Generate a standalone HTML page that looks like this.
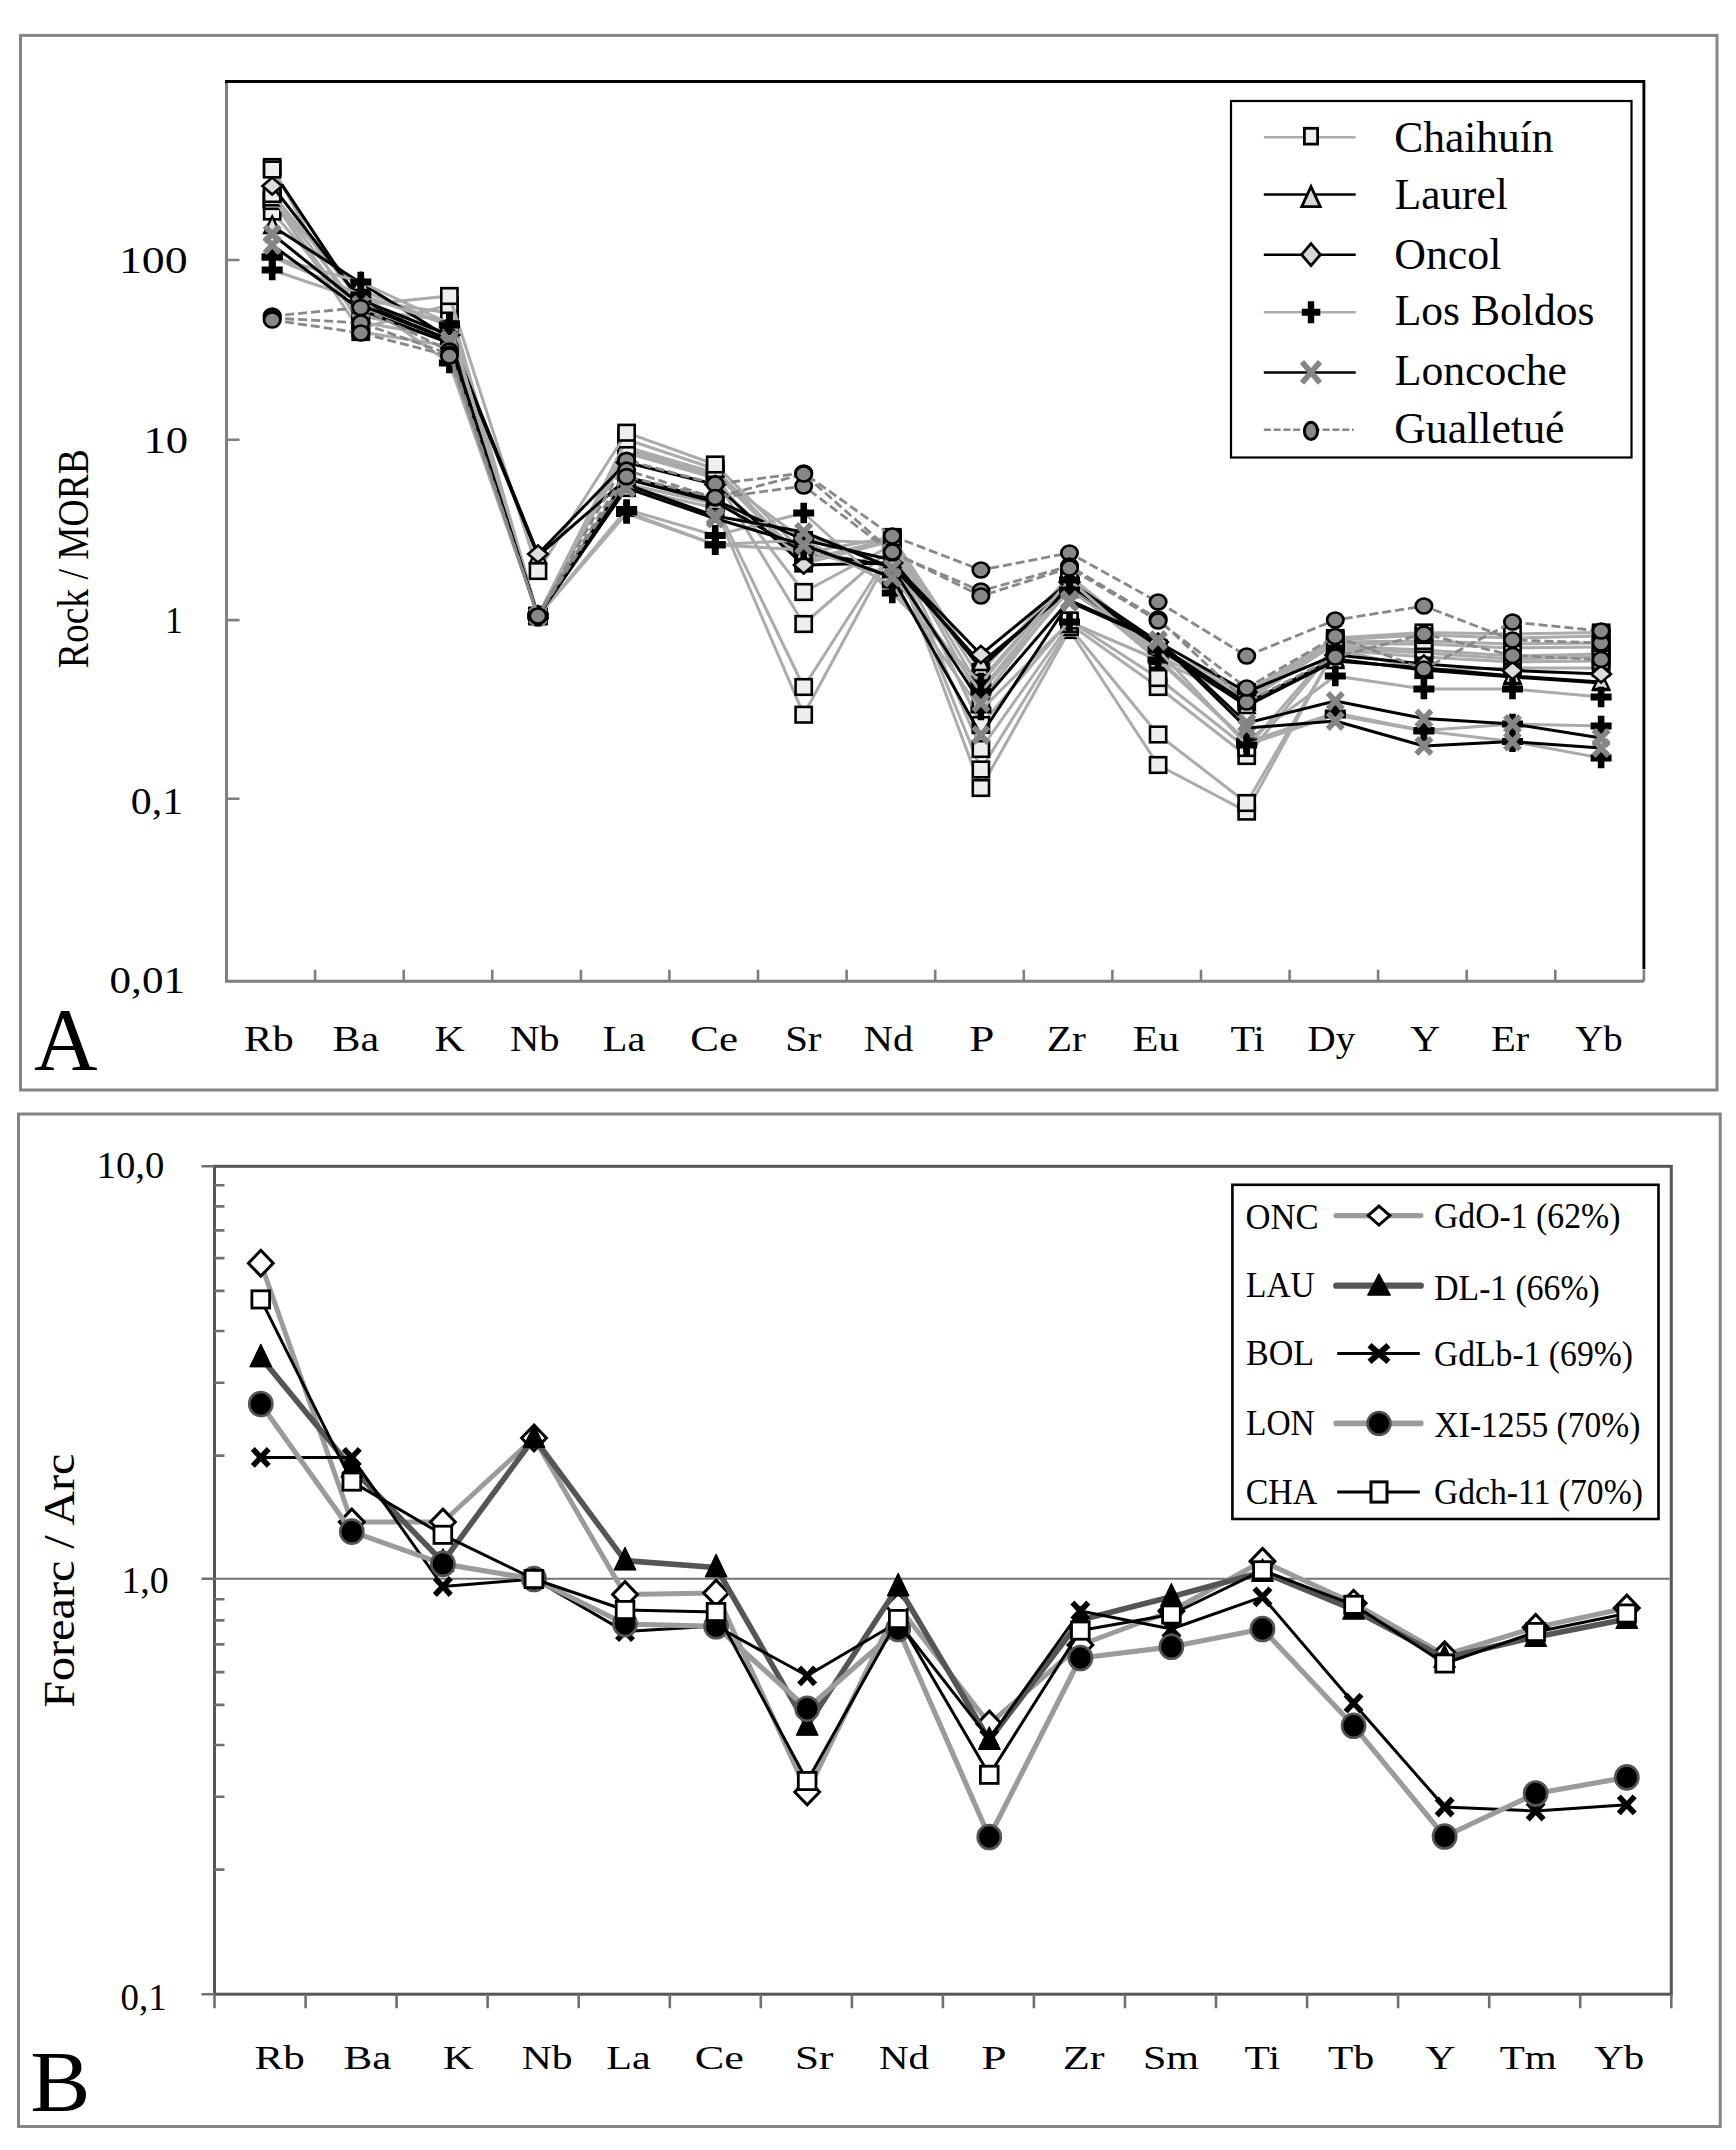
<!DOCTYPE html>
<html lang="es"><head><meta charset="utf-8"><title>Rock / MORB – Forearc / Arc</title>
<style>html,body{margin:0;padding:0;background:#fff}svg{display:block}</style></head>
<body>
<svg width="1736" height="2150" viewBox="0 0 1736 2150" font-family="'Liberation Serif', serif">
<rect width="1736" height="2150" fill="#fff"/>
<rect x="20.5" y="35.4" width="1696.5" height="1054.6" fill="none" stroke="#858585" stroke-width="3"/>
<path d="M226.5 81.5V981.2H1643.9" fill="none" stroke="#7f7f7f" stroke-width="3"/>
<path d="M225.0 81.5H1643.9V969.2" fill="none" stroke="#000" stroke-width="2.9"/>
<path d="M315.1 981.2v-11.5M403.7 981.2v-11.5M492.3 981.2v-11.5M580.9 981.2v-11.5M669.4 981.2v-11.5M758.0 981.2v-11.5M846.6 981.2v-11.5M935.2 981.2v-11.5M1023.8 981.2v-11.5M1112.4 981.2v-11.5M1201.0 981.2v-11.5M1289.6 981.2v-11.5M1378.1 981.2v-11.5M1466.7 981.2v-11.5M1555.3 981.2v-11.5M1643.9 981.2v-11.5" stroke="#7f7f7f" stroke-width="2.6" fill="none"/>
<path d="M226.5 260.0h13M226.5 439.8h13M226.5 620.1h13M226.5 798.7h13" stroke="#7f7f7f" stroke-width="2.6" fill="none"/>
<text transform="translate(118.89,273.00) scale(1.2383,1)" font-size="37" fill="#000">100</text>
<text transform="translate(143.49,453.20) scale(1.2077,1)" font-size="37" fill="#000">10</text>
<text transform="translate(165.25,632.70) scale(0.9431,1)" font-size="37" fill="#000">1</text>
<text transform="translate(130.83,813.80) scale(1.1303,1)" font-size="37" fill="#000">0,1</text>
<text transform="translate(109.58,993.40) scale(1.1490,1)" font-size="37.5" fill="#000">0,01</text>
<text transform="translate(88.40,668.13) rotate(-90) scale(0.8530,1)" font-size="44" fill="#000">Rock / MORB</text>
<text transform="translate(34.12,1068.70) scale(0.9881,1)" font-size="89" fill="#000">A</text>
<text transform="translate(244.12,1050.60) scale(1.1818,1)" font-size="36" fill="#000">Rb</text>
<text transform="translate(332.54,1050.60) scale(1.1632,1)" font-size="36" fill="#000">Ba</text>
<text transform="translate(434.55,1050.60) scale(1.1600,1)" font-size="36" fill="#000">K</text>
<text transform="translate(509.88,1050.60) scale(1.1279,1)" font-size="36" fill="#000">Nb</text>
<text transform="translate(602.79,1050.60) scale(1.1194,1)" font-size="36" fill="#000">La</text>
<text transform="translate(690.28,1050.60) scale(1.1941,1)" font-size="36" fill="#000">Ce</text>
<text transform="translate(785.14,1050.60) scale(1.1350,1)" font-size="36" fill="#000">Sr</text>
<text transform="translate(863.69,1050.60) scale(1.1229,1)" font-size="36" fill="#000">Nd</text>
<text transform="translate(969.25,1050.60) scale(1.2543,1)" font-size="36" fill="#000">P</text>
<text transform="translate(1046.63,1050.60) scale(1.1518,1)" font-size="36" fill="#000">Zr</text>
<text transform="translate(1132.74,1050.60) scale(1.1660,1)" font-size="36" fill="#000">Eu</text>
<text transform="translate(1230.50,1050.60) scale(1.1145,1)" font-size="36" fill="#000">Ti</text>
<text transform="translate(1307.53,1050.60) scale(1.0830,1)" font-size="36" fill="#000">Dy</text>
<text transform="translate(1410.29,1050.60) scale(1.1475,1)" font-size="36" fill="#000">Y</text>
<text transform="translate(1491.29,1050.60) scale(1.1172,1)" font-size="36" fill="#000">Er</text>
<text transform="translate(1575.31,1050.60) scale(1.0780,1)" font-size="36" fill="#000">Yb</text>
<g id="seriesA">
<polyline points="272.2,199.0 360.8,332.0 449.4,346.0 538.0,616.0 626.6,488.0 715.2,508.0 803.7,714.7 892.3,550.5 980.9,788.0 1069.5,630.0 1158.1,765.0 1246.7,811.6 1335.3,649.0 1423.9,670.0 1512.5,668.0 1601.1,668.0" fill="none" stroke="#ababab" stroke-width="3.0" stroke-linejoin="round"/>
<rect x="264.1" y="191.2" width="16.2" height="15.6" fill="#eeeeee" stroke="#000" stroke-width="2.6"/><rect x="352.7" y="324.2" width="16.2" height="15.6" fill="#eeeeee" stroke="#000" stroke-width="2.6"/><rect x="441.3" y="338.2" width="16.2" height="15.6" fill="#eeeeee" stroke="#000" stroke-width="2.6"/><rect x="529.9" y="608.2" width="16.2" height="15.6" fill="#eeeeee" stroke="#000" stroke-width="2.6"/><rect x="618.5" y="480.2" width="16.2" height="15.6" fill="#eeeeee" stroke="#000" stroke-width="2.6"/><rect x="707.1" y="500.2" width="16.2" height="15.6" fill="#eeeeee" stroke="#000" stroke-width="2.6"/><rect x="795.6" y="706.9" width="16.2" height="15.6" fill="#eeeeee" stroke="#000" stroke-width="2.6"/><rect x="884.2" y="542.7" width="16.2" height="15.6" fill="#eeeeee" stroke="#000" stroke-width="2.6"/><rect x="972.8" y="780.2" width="16.2" height="15.6" fill="#eeeeee" stroke="#000" stroke-width="2.6"/><rect x="1061.4" y="622.2" width="16.2" height="15.6" fill="#eeeeee" stroke="#000" stroke-width="2.6"/><rect x="1150.0" y="757.2" width="16.2" height="15.6" fill="#eeeeee" stroke="#000" stroke-width="2.6"/><rect x="1238.6" y="803.8" width="16.2" height="15.6" fill="#eeeeee" stroke="#000" stroke-width="2.6"/><rect x="1327.2" y="641.2" width="16.2" height="15.6" fill="#eeeeee" stroke="#000" stroke-width="2.6"/><rect x="1415.8" y="662.2" width="16.2" height="15.6" fill="#eeeeee" stroke="#000" stroke-width="2.6"/><rect x="1504.4" y="660.2" width="16.2" height="15.6" fill="#eeeeee" stroke="#000" stroke-width="2.6"/><rect x="1593.0" y="660.2" width="16.2" height="15.6" fill="#eeeeee" stroke="#000" stroke-width="2.6"/>
<polyline points="272.2,200.0 360.8,322.0 449.4,338.0 538.0,616.0 626.6,484.0 715.2,504.0 803.7,687.0 892.3,549.0 980.9,769.5 1069.5,627.0 1158.1,734.5 1246.7,803.0 1335.3,650.0 1423.9,657.0 1512.5,662.0 1601.1,661.0" fill="none" stroke="#ababab" stroke-width="3.0" stroke-linejoin="round"/>
<rect x="264.1" y="192.2" width="16.2" height="15.6" fill="#eeeeee" stroke="#000" stroke-width="2.6"/><rect x="352.7" y="314.2" width="16.2" height="15.6" fill="#eeeeee" stroke="#000" stroke-width="2.6"/><rect x="441.3" y="330.2" width="16.2" height="15.6" fill="#eeeeee" stroke="#000" stroke-width="2.6"/><rect x="529.9" y="608.2" width="16.2" height="15.6" fill="#eeeeee" stroke="#000" stroke-width="2.6"/><rect x="618.5" y="476.2" width="16.2" height="15.6" fill="#eeeeee" stroke="#000" stroke-width="2.6"/><rect x="707.1" y="496.2" width="16.2" height="15.6" fill="#eeeeee" stroke="#000" stroke-width="2.6"/><rect x="795.6" y="679.2" width="16.2" height="15.6" fill="#eeeeee" stroke="#000" stroke-width="2.6"/><rect x="884.2" y="541.2" width="16.2" height="15.6" fill="#eeeeee" stroke="#000" stroke-width="2.6"/><rect x="972.8" y="761.7" width="16.2" height="15.6" fill="#eeeeee" stroke="#000" stroke-width="2.6"/><rect x="1061.4" y="619.2" width="16.2" height="15.6" fill="#eeeeee" stroke="#000" stroke-width="2.6"/><rect x="1150.0" y="726.7" width="16.2" height="15.6" fill="#eeeeee" stroke="#000" stroke-width="2.6"/><rect x="1238.6" y="795.2" width="16.2" height="15.6" fill="#eeeeee" stroke="#000" stroke-width="2.6"/><rect x="1327.2" y="642.2" width="16.2" height="15.6" fill="#eeeeee" stroke="#000" stroke-width="2.6"/><rect x="1415.8" y="649.2" width="16.2" height="15.6" fill="#eeeeee" stroke="#000" stroke-width="2.6"/><rect x="1504.4" y="654.2" width="16.2" height="15.6" fill="#eeeeee" stroke="#000" stroke-width="2.6"/><rect x="1593.0" y="653.2" width="16.2" height="15.6" fill="#eeeeee" stroke="#000" stroke-width="2.6"/>
<polyline points="272.2,211.5 360.8,316.0 449.4,332.0 538.0,616.0 626.6,453.0 715.2,478.0 803.7,624.0 892.3,547.0 980.9,749.0 1069.5,624.0 1158.1,687.0 1246.7,756.0 1335.3,648.0 1423.9,653.0 1512.5,659.0 1601.1,657.0" fill="none" stroke="#ababab" stroke-width="3.0" stroke-linejoin="round"/>
<rect x="264.1" y="203.7" width="16.2" height="15.6" fill="#eeeeee" stroke="#000" stroke-width="2.6"/><rect x="352.7" y="308.2" width="16.2" height="15.6" fill="#eeeeee" stroke="#000" stroke-width="2.6"/><rect x="441.3" y="324.2" width="16.2" height="15.6" fill="#eeeeee" stroke="#000" stroke-width="2.6"/><rect x="529.9" y="608.2" width="16.2" height="15.6" fill="#eeeeee" stroke="#000" stroke-width="2.6"/><rect x="618.5" y="445.2" width="16.2" height="15.6" fill="#eeeeee" stroke="#000" stroke-width="2.6"/><rect x="707.1" y="470.2" width="16.2" height="15.6" fill="#eeeeee" stroke="#000" stroke-width="2.6"/><rect x="795.6" y="616.2" width="16.2" height="15.6" fill="#eeeeee" stroke="#000" stroke-width="2.6"/><rect x="884.2" y="539.2" width="16.2" height="15.6" fill="#eeeeee" stroke="#000" stroke-width="2.6"/><rect x="972.8" y="741.2" width="16.2" height="15.6" fill="#eeeeee" stroke="#000" stroke-width="2.6"/><rect x="1061.4" y="616.2" width="16.2" height="15.6" fill="#eeeeee" stroke="#000" stroke-width="2.6"/><rect x="1150.0" y="679.2" width="16.2" height="15.6" fill="#eeeeee" stroke="#000" stroke-width="2.6"/><rect x="1238.6" y="748.2" width="16.2" height="15.6" fill="#eeeeee" stroke="#000" stroke-width="2.6"/><rect x="1327.2" y="640.2" width="16.2" height="15.6" fill="#eeeeee" stroke="#000" stroke-width="2.6"/><rect x="1415.8" y="645.2" width="16.2" height="15.6" fill="#eeeeee" stroke="#000" stroke-width="2.6"/><rect x="1504.4" y="651.2" width="16.2" height="15.6" fill="#eeeeee" stroke="#000" stroke-width="2.6"/><rect x="1593.0" y="649.2" width="16.2" height="15.6" fill="#eeeeee" stroke="#000" stroke-width="2.6"/>
<polyline points="272.2,201.0 360.8,290.0 449.4,326.0 538.0,616.0 626.6,451.0 715.2,476.5 803.7,592.0 892.3,545.0 980.9,725.0 1069.5,620.5 1158.1,678.0 1246.7,748.0 1335.3,646.0 1423.9,650.0 1512.5,656.0 1601.1,654.0" fill="none" stroke="#ababab" stroke-width="3.0" stroke-linejoin="round"/>
<rect x="264.1" y="193.2" width="16.2" height="15.6" fill="#eeeeee" stroke="#000" stroke-width="2.6"/><rect x="352.7" y="282.2" width="16.2" height="15.6" fill="#eeeeee" stroke="#000" stroke-width="2.6"/><rect x="441.3" y="318.2" width="16.2" height="15.6" fill="#eeeeee" stroke="#000" stroke-width="2.6"/><rect x="529.9" y="608.2" width="16.2" height="15.6" fill="#eeeeee" stroke="#000" stroke-width="2.6"/><rect x="618.5" y="443.2" width="16.2" height="15.6" fill="#eeeeee" stroke="#000" stroke-width="2.6"/><rect x="707.1" y="468.7" width="16.2" height="15.6" fill="#eeeeee" stroke="#000" stroke-width="2.6"/><rect x="795.6" y="584.2" width="16.2" height="15.6" fill="#eeeeee" stroke="#000" stroke-width="2.6"/><rect x="884.2" y="537.2" width="16.2" height="15.6" fill="#eeeeee" stroke="#000" stroke-width="2.6"/><rect x="972.8" y="717.2" width="16.2" height="15.6" fill="#eeeeee" stroke="#000" stroke-width="2.6"/><rect x="1061.4" y="612.7" width="16.2" height="15.6" fill="#eeeeee" stroke="#000" stroke-width="2.6"/><rect x="1150.0" y="670.2" width="16.2" height="15.6" fill="#eeeeee" stroke="#000" stroke-width="2.6"/><rect x="1238.6" y="740.2" width="16.2" height="15.6" fill="#eeeeee" stroke="#000" stroke-width="2.6"/><rect x="1327.2" y="638.2" width="16.2" height="15.6" fill="#eeeeee" stroke="#000" stroke-width="2.6"/><rect x="1415.8" y="642.2" width="16.2" height="15.6" fill="#eeeeee" stroke="#000" stroke-width="2.6"/><rect x="1504.4" y="648.2" width="16.2" height="15.6" fill="#eeeeee" stroke="#000" stroke-width="2.6"/><rect x="1593.0" y="646.2" width="16.2" height="15.6" fill="#eeeeee" stroke="#000" stroke-width="2.6"/>
<polyline points="272.2,197.5 360.8,310.0 449.4,320.0 538.0,616.0 626.6,449.0 715.2,475.0 803.7,540.0 892.3,543.0 980.9,700.0 1069.5,586.0 1158.1,660.0 1246.7,701.0 1335.3,644.0 1423.9,644.0 1512.5,648.0 1601.1,647.0" fill="none" stroke="#ababab" stroke-width="3.0" stroke-linejoin="round"/>
<rect x="264.1" y="189.7" width="16.2" height="15.6" fill="#eeeeee" stroke="#000" stroke-width="2.6"/><rect x="352.7" y="302.2" width="16.2" height="15.6" fill="#eeeeee" stroke="#000" stroke-width="2.6"/><rect x="441.3" y="312.2" width="16.2" height="15.6" fill="#eeeeee" stroke="#000" stroke-width="2.6"/><rect x="529.9" y="608.2" width="16.2" height="15.6" fill="#eeeeee" stroke="#000" stroke-width="2.6"/><rect x="618.5" y="441.2" width="16.2" height="15.6" fill="#eeeeee" stroke="#000" stroke-width="2.6"/><rect x="707.1" y="467.2" width="16.2" height="15.6" fill="#eeeeee" stroke="#000" stroke-width="2.6"/><rect x="795.6" y="532.2" width="16.2" height="15.6" fill="#eeeeee" stroke="#000" stroke-width="2.6"/><rect x="884.2" y="535.2" width="16.2" height="15.6" fill="#eeeeee" stroke="#000" stroke-width="2.6"/><rect x="972.8" y="692.2" width="16.2" height="15.6" fill="#eeeeee" stroke="#000" stroke-width="2.6"/><rect x="1061.4" y="578.2" width="16.2" height="15.6" fill="#eeeeee" stroke="#000" stroke-width="2.6"/><rect x="1150.0" y="652.2" width="16.2" height="15.6" fill="#eeeeee" stroke="#000" stroke-width="2.6"/><rect x="1238.6" y="693.2" width="16.2" height="15.6" fill="#eeeeee" stroke="#000" stroke-width="2.6"/><rect x="1327.2" y="636.2" width="16.2" height="15.6" fill="#eeeeee" stroke="#000" stroke-width="2.6"/><rect x="1415.8" y="636.2" width="16.2" height="15.6" fill="#eeeeee" stroke="#000" stroke-width="2.6"/><rect x="1504.4" y="640.2" width="16.2" height="15.6" fill="#eeeeee" stroke="#000" stroke-width="2.6"/><rect x="1593.0" y="639.2" width="16.2" height="15.6" fill="#eeeeee" stroke="#000" stroke-width="2.6"/>
<polyline points="272.2,194.0 360.8,300.0 449.4,313.0 538.0,616.0 626.6,447.0 715.2,473.0 803.7,563.5 892.3,541.0 980.9,690.0 1069.5,583.0 1158.1,656.0 1246.7,698.0 1335.3,642.0 1423.9,641.0 1512.5,644.0 1601.1,643.0" fill="none" stroke="#ababab" stroke-width="3.0" stroke-linejoin="round"/>
<rect x="264.1" y="186.2" width="16.2" height="15.6" fill="#eeeeee" stroke="#000" stroke-width="2.6"/><rect x="352.7" y="292.2" width="16.2" height="15.6" fill="#eeeeee" stroke="#000" stroke-width="2.6"/><rect x="441.3" y="305.2" width="16.2" height="15.6" fill="#eeeeee" stroke="#000" stroke-width="2.6"/><rect x="529.9" y="608.2" width="16.2" height="15.6" fill="#eeeeee" stroke="#000" stroke-width="2.6"/><rect x="618.5" y="439.2" width="16.2" height="15.6" fill="#eeeeee" stroke="#000" stroke-width="2.6"/><rect x="707.1" y="465.2" width="16.2" height="15.6" fill="#eeeeee" stroke="#000" stroke-width="2.6"/><rect x="795.6" y="555.7" width="16.2" height="15.6" fill="#eeeeee" stroke="#000" stroke-width="2.6"/><rect x="884.2" y="533.2" width="16.2" height="15.6" fill="#eeeeee" stroke="#000" stroke-width="2.6"/><rect x="972.8" y="682.2" width="16.2" height="15.6" fill="#eeeeee" stroke="#000" stroke-width="2.6"/><rect x="1061.4" y="575.2" width="16.2" height="15.6" fill="#eeeeee" stroke="#000" stroke-width="2.6"/><rect x="1150.0" y="648.2" width="16.2" height="15.6" fill="#eeeeee" stroke="#000" stroke-width="2.6"/><rect x="1238.6" y="690.2" width="16.2" height="15.6" fill="#eeeeee" stroke="#000" stroke-width="2.6"/><rect x="1327.2" y="634.2" width="16.2" height="15.6" fill="#eeeeee" stroke="#000" stroke-width="2.6"/><rect x="1415.8" y="633.2" width="16.2" height="15.6" fill="#eeeeee" stroke="#000" stroke-width="2.6"/><rect x="1504.4" y="636.2" width="16.2" height="15.6" fill="#eeeeee" stroke="#000" stroke-width="2.6"/><rect x="1593.0" y="635.2" width="16.2" height="15.6" fill="#eeeeee" stroke="#000" stroke-width="2.6"/>
<polyline points="272.2,167.0 360.8,328.0 449.4,305.0 538.0,616.0 626.6,439.5 715.2,469.0 803.7,560.0 892.3,539.0 980.9,680.0 1069.5,580.0 1158.1,652.0 1246.7,695.0 1335.3,640.0 1423.9,635.0 1512.5,638.0 1601.1,636.0" fill="none" stroke="#ababab" stroke-width="3.0" stroke-linejoin="round"/>
<rect x="264.1" y="159.2" width="16.2" height="15.6" fill="#eeeeee" stroke="#000" stroke-width="2.6"/><rect x="352.7" y="320.2" width="16.2" height="15.6" fill="#eeeeee" stroke="#000" stroke-width="2.6"/><rect x="441.3" y="297.2" width="16.2" height="15.6" fill="#eeeeee" stroke="#000" stroke-width="2.6"/><rect x="529.9" y="608.2" width="16.2" height="15.6" fill="#eeeeee" stroke="#000" stroke-width="2.6"/><rect x="618.5" y="431.7" width="16.2" height="15.6" fill="#eeeeee" stroke="#000" stroke-width="2.6"/><rect x="707.1" y="461.2" width="16.2" height="15.6" fill="#eeeeee" stroke="#000" stroke-width="2.6"/><rect x="795.6" y="552.2" width="16.2" height="15.6" fill="#eeeeee" stroke="#000" stroke-width="2.6"/><rect x="884.2" y="531.2" width="16.2" height="15.6" fill="#eeeeee" stroke="#000" stroke-width="2.6"/><rect x="972.8" y="672.2" width="16.2" height="15.6" fill="#eeeeee" stroke="#000" stroke-width="2.6"/><rect x="1061.4" y="572.2" width="16.2" height="15.6" fill="#eeeeee" stroke="#000" stroke-width="2.6"/><rect x="1150.0" y="644.2" width="16.2" height="15.6" fill="#eeeeee" stroke="#000" stroke-width="2.6"/><rect x="1238.6" y="687.2" width="16.2" height="15.6" fill="#eeeeee" stroke="#000" stroke-width="2.6"/><rect x="1327.2" y="632.2" width="16.2" height="15.6" fill="#eeeeee" stroke="#000" stroke-width="2.6"/><rect x="1415.8" y="627.2" width="16.2" height="15.6" fill="#eeeeee" stroke="#000" stroke-width="2.6"/><rect x="1504.4" y="630.2" width="16.2" height="15.6" fill="#eeeeee" stroke="#000" stroke-width="2.6"/><rect x="1593.0" y="628.2" width="16.2" height="15.6" fill="#eeeeee" stroke="#000" stroke-width="2.6"/>
<polyline points="272.2,169.5 360.8,305.0 449.4,296.0 538.0,571.0 626.6,432.7 715.2,464.5 803.7,553.0 892.3,537.0 980.9,672.0 1069.5,576.0 1158.1,648.0 1246.7,692.0 1335.3,638.0 1423.9,632.5 1512.5,634.0 1601.1,632.5" fill="none" stroke="#ababab" stroke-width="3.0" stroke-linejoin="round"/>
<rect x="264.1" y="161.7" width="16.2" height="15.6" fill="#eeeeee" stroke="#000" stroke-width="2.6"/><rect x="352.7" y="297.2" width="16.2" height="15.6" fill="#eeeeee" stroke="#000" stroke-width="2.6"/><rect x="441.3" y="288.2" width="16.2" height="15.6" fill="#eeeeee" stroke="#000" stroke-width="2.6"/><rect x="529.9" y="563.2" width="16.2" height="15.6" fill="#eeeeee" stroke="#000" stroke-width="2.6"/><rect x="618.5" y="424.9" width="16.2" height="15.6" fill="#eeeeee" stroke="#000" stroke-width="2.6"/><rect x="707.1" y="456.7" width="16.2" height="15.6" fill="#eeeeee" stroke="#000" stroke-width="2.6"/><rect x="795.6" y="545.2" width="16.2" height="15.6" fill="#eeeeee" stroke="#000" stroke-width="2.6"/><rect x="884.2" y="529.2" width="16.2" height="15.6" fill="#eeeeee" stroke="#000" stroke-width="2.6"/><rect x="972.8" y="664.2" width="16.2" height="15.6" fill="#eeeeee" stroke="#000" stroke-width="2.6"/><rect x="1061.4" y="568.2" width="16.2" height="15.6" fill="#eeeeee" stroke="#000" stroke-width="2.6"/><rect x="1150.0" y="640.2" width="16.2" height="15.6" fill="#eeeeee" stroke="#000" stroke-width="2.6"/><rect x="1238.6" y="684.2" width="16.2" height="15.6" fill="#eeeeee" stroke="#000" stroke-width="2.6"/><rect x="1327.2" y="630.2" width="16.2" height="15.6" fill="#eeeeee" stroke="#000" stroke-width="2.6"/><rect x="1415.8" y="624.7" width="16.2" height="15.6" fill="#eeeeee" stroke="#000" stroke-width="2.6"/><rect x="1504.4" y="626.2" width="16.2" height="15.6" fill="#eeeeee" stroke="#000" stroke-width="2.6"/><rect x="1593.0" y="624.7" width="16.2" height="15.6" fill="#eeeeee" stroke="#000" stroke-width="2.6"/>
<polyline points="281.7,184.3 360.8,303.0 449.4,340.0 538.0,616.0 626.6,477.0 715.2,500.0 803.7,540.0 892.3,560.0 980.9,668.0 1069.5,585.0 1158.1,645.0 1246.7,703.0 1335.3,659.0 1423.9,670.0 1512.5,677.0 1601.1,683.0" fill="none" stroke="#000" stroke-width="3" stroke-linejoin="round"/>
<path d="M360.8 293.5L368.8 310.0L352.8 310.0Z" fill="#dcdcdc" stroke="#000" stroke-width="2.4" stroke-linejoin="miter"/><path d="M449.4 330.5L457.4 347.0L441.4 347.0Z" fill="#dcdcdc" stroke="#000" stroke-width="2.4" stroke-linejoin="miter"/><path d="M538.0 606.5L546.0 623.0L530.0 623.0Z" fill="#dcdcdc" stroke="#000" stroke-width="2.4" stroke-linejoin="miter"/><path d="M626.6 467.5L634.6 484.0L618.6 484.0Z" fill="#dcdcdc" stroke="#000" stroke-width="2.4" stroke-linejoin="miter"/><path d="M715.2 490.5L723.2 507.0L707.2 507.0Z" fill="#dcdcdc" stroke="#000" stroke-width="2.4" stroke-linejoin="miter"/><path d="M803.7 530.5L811.7 547.0L795.7 547.0Z" fill="#dcdcdc" stroke="#000" stroke-width="2.4" stroke-linejoin="miter"/><path d="M892.3 550.5L900.3 567.0L884.3 567.0Z" fill="#dcdcdc" stroke="#000" stroke-width="2.4" stroke-linejoin="miter"/><path d="M980.9 658.5L988.9 675.0L972.9 675.0Z" fill="#dcdcdc" stroke="#000" stroke-width="2.4" stroke-linejoin="miter"/><path d="M1069.5 575.5L1077.5 592.0L1061.5 592.0Z" fill="#dcdcdc" stroke="#000" stroke-width="2.4" stroke-linejoin="miter"/><path d="M1158.1 635.5L1166.1 652.0L1150.1 652.0Z" fill="#dcdcdc" stroke="#000" stroke-width="2.4" stroke-linejoin="miter"/><path d="M1246.7 693.5L1254.7 710.0L1238.7 710.0Z" fill="#dcdcdc" stroke="#000" stroke-width="2.4" stroke-linejoin="miter"/><path d="M1335.3 649.5L1343.3 666.0L1327.3 666.0Z" fill="#dcdcdc" stroke="#000" stroke-width="2.4" stroke-linejoin="miter"/><path d="M1423.9 660.5L1431.9 677.0L1415.9 677.0Z" fill="#dcdcdc" stroke="#000" stroke-width="2.4" stroke-linejoin="miter"/><path d="M1512.5 667.5L1520.5 684.0L1504.5 684.0Z" fill="#dcdcdc" stroke="#000" stroke-width="2.4" stroke-linejoin="miter"/><path d="M1601.1 673.5L1609.1 690.0L1593.1 690.0Z" fill="#dcdcdc" stroke="#000" stroke-width="2.4" stroke-linejoin="miter"/>
<polyline points="272.2,226.0 360.8,283.0 449.4,338.0 538.0,556.0 626.6,479.0 715.2,502.0 803.7,552.0 892.3,566.0 980.9,663.0 1069.5,590.0 1158.1,648.0 1246.7,706.0 1335.3,661.0 1423.9,668.0 1512.5,676.0 1601.1,682.0" fill="none" stroke="#000" stroke-width="3" stroke-linejoin="round"/>
<path d="M272.2 216.5L280.2 233.0L264.2 233.0Z" fill="#dcdcdc" stroke="#000" stroke-width="2.4" stroke-linejoin="miter"/><path d="M360.8 273.5L368.8 290.0L352.8 290.0Z" fill="#dcdcdc" stroke="#000" stroke-width="2.4" stroke-linejoin="miter"/><path d="M449.4 328.5L457.4 345.0L441.4 345.0Z" fill="#dcdcdc" stroke="#000" stroke-width="2.4" stroke-linejoin="miter"/><path d="M538.0 546.5L546.0 563.0L530.0 563.0Z" fill="#dcdcdc" stroke="#000" stroke-width="2.4" stroke-linejoin="miter"/><path d="M626.6 469.5L634.6 486.0L618.6 486.0Z" fill="#dcdcdc" stroke="#000" stroke-width="2.4" stroke-linejoin="miter"/><path d="M715.2 492.5L723.2 509.0L707.2 509.0Z" fill="#dcdcdc" stroke="#000" stroke-width="2.4" stroke-linejoin="miter"/><path d="M803.7 542.5L811.7 559.0L795.7 559.0Z" fill="#dcdcdc" stroke="#000" stroke-width="2.4" stroke-linejoin="miter"/><path d="M892.3 556.5L900.3 573.0L884.3 573.0Z" fill="#dcdcdc" stroke="#000" stroke-width="2.4" stroke-linejoin="miter"/><path d="M980.9 653.5L988.9 670.0L972.9 670.0Z" fill="#dcdcdc" stroke="#000" stroke-width="2.4" stroke-linejoin="miter"/><path d="M1069.5 580.5L1077.5 597.0L1061.5 597.0Z" fill="#dcdcdc" stroke="#000" stroke-width="2.4" stroke-linejoin="miter"/><path d="M1158.1 638.5L1166.1 655.0L1150.1 655.0Z" fill="#dcdcdc" stroke="#000" stroke-width="2.4" stroke-linejoin="miter"/><path d="M1246.7 696.5L1254.7 713.0L1238.7 713.0Z" fill="#dcdcdc" stroke="#000" stroke-width="2.4" stroke-linejoin="miter"/><path d="M1335.3 651.5L1343.3 668.0L1327.3 668.0Z" fill="#dcdcdc" stroke="#000" stroke-width="2.4" stroke-linejoin="miter"/><path d="M1423.9 658.5L1431.9 675.0L1415.9 675.0Z" fill="#dcdcdc" stroke="#000" stroke-width="2.4" stroke-linejoin="miter"/><path d="M1512.5 666.5L1520.5 683.0L1504.5 683.0Z" fill="#dcdcdc" stroke="#000" stroke-width="2.4" stroke-linejoin="miter"/><path d="M1601.1 672.5L1609.1 689.0L1593.1 689.0Z" fill="#dcdcdc" stroke="#000" stroke-width="2.4" stroke-linejoin="miter"/>
<polyline points="272.2,186.0 360.8,300.0 449.4,335.0 538.0,554.0 626.6,462.5 715.2,484.5 803.7,565.0 892.3,563.0 980.9,654.5 1069.5,582.0 1158.1,642.0 1246.7,692.0 1335.3,655.0 1423.9,664.0 1512.5,670.6 1601.1,674.0" fill="none" stroke="#000" stroke-width="3" stroke-linejoin="round"/>
<path d="M272.2 177.5L282.0 186.0L272.2 194.5L262.4 186.0Z" fill="#dcdcdc" stroke="#000" stroke-width="2.5" stroke-linejoin="miter"/><path d="M360.8 291.5L370.6 300.0L360.8 308.5L351.0 300.0Z" fill="#dcdcdc" stroke="#000" stroke-width="2.5" stroke-linejoin="miter"/><path d="M449.4 326.5L459.2 335.0L449.4 343.5L439.6 335.0Z" fill="#dcdcdc" stroke="#000" stroke-width="2.5" stroke-linejoin="miter"/><path d="M538.0 545.5L547.8 554.0L538.0 562.5L528.2 554.0Z" fill="#dcdcdc" stroke="#000" stroke-width="2.5" stroke-linejoin="miter"/><path d="M626.6 454.0L636.4 462.5L626.6 471.0L616.8 462.5Z" fill="#dcdcdc" stroke="#000" stroke-width="2.5" stroke-linejoin="miter"/><path d="M715.2 476.0L725.0 484.5L715.2 493.0L705.4 484.5Z" fill="#dcdcdc" stroke="#000" stroke-width="2.5" stroke-linejoin="miter"/><path d="M803.7 556.5L813.5 565.0L803.7 573.5L793.9 565.0Z" fill="#dcdcdc" stroke="#000" stroke-width="2.5" stroke-linejoin="miter"/><path d="M892.3 554.5L902.1 563.0L892.3 571.5L882.5 563.0Z" fill="#dcdcdc" stroke="#000" stroke-width="2.5" stroke-linejoin="miter"/><path d="M980.9 646.0L990.7 654.5L980.9 663.0L971.1 654.5Z" fill="#dcdcdc" stroke="#000" stroke-width="2.5" stroke-linejoin="miter"/><path d="M1069.5 573.5L1079.3 582.0L1069.5 590.5L1059.7 582.0Z" fill="#dcdcdc" stroke="#000" stroke-width="2.5" stroke-linejoin="miter"/><path d="M1158.1 633.5L1167.9 642.0L1158.1 650.5L1148.3 642.0Z" fill="#dcdcdc" stroke="#000" stroke-width="2.5" stroke-linejoin="miter"/><path d="M1246.7 683.5L1256.5 692.0L1246.7 700.5L1236.9 692.0Z" fill="#dcdcdc" stroke="#000" stroke-width="2.5" stroke-linejoin="miter"/><path d="M1335.3 646.5L1345.1 655.0L1335.3 663.5L1325.5 655.0Z" fill="#dcdcdc" stroke="#000" stroke-width="2.5" stroke-linejoin="miter"/><path d="M1423.9 655.5L1433.7 664.0L1423.9 672.5L1414.1 664.0Z" fill="#dcdcdc" stroke="#000" stroke-width="2.5" stroke-linejoin="miter"/><path d="M1512.5 662.1L1522.3 670.6L1512.5 679.1L1502.7 670.6Z" fill="#dcdcdc" stroke="#000" stroke-width="2.5" stroke-linejoin="miter"/><path d="M1601.1 665.5L1610.9 674.0L1601.1 682.5L1591.3 674.0Z" fill="#dcdcdc" stroke="#000" stroke-width="2.5" stroke-linejoin="miter"/>
<polyline points="272.2,257.0 360.8,282.0 449.4,323.7 538.0,616.0 626.6,509.5 715.2,535.4 803.7,513.0 892.3,593.0 980.9,683.0 1069.5,580.0 1158.1,658.0 1246.7,741.0 1335.3,676.0 1423.9,689.0 1512.5,689.0 1601.1,697.0" fill="none" stroke="#ababab" stroke-width="3.0" stroke-linejoin="round"/>
<path d="M261.7 253.5h21v7h-21zM268.9 246.8h6.6v20.5h-6.6z" fill="#000"/><path d="M350.3 278.5h21v7h-21zM357.5 271.8h6.6v20.5h-6.6z" fill="#000"/><path d="M438.9 320.2h21v7h-21zM446.1 313.4h6.6v20.5h-6.6z" fill="#000"/><path d="M527.5 612.5h21v7h-21zM534.7 605.8h6.6v20.5h-6.6z" fill="#000"/><path d="M616.1 506.0h21v7h-21zM623.3 499.2h6.6v20.5h-6.6z" fill="#000"/><path d="M704.7 531.9h21v7h-21zM711.9 525.1h6.6v20.5h-6.6z" fill="#000"/><path d="M793.2 509.5h21v7h-21zM800.4 502.8h6.6v20.5h-6.6z" fill="#000"/><path d="M881.8 589.5h21v7h-21zM889.0 582.8h6.6v20.5h-6.6z" fill="#000"/><path d="M970.4 679.5h21v7h-21zM977.6 672.8h6.6v20.5h-6.6z" fill="#000"/><path d="M1059.0 576.5h21v7h-21zM1066.2 569.8h6.6v20.5h-6.6z" fill="#000"/><path d="M1147.6 654.5h21v7h-21zM1154.8 647.8h6.6v20.5h-6.6z" fill="#000"/><path d="M1236.2 737.5h21v7h-21zM1243.4 730.8h6.6v20.5h-6.6z" fill="#000"/><path d="M1324.8 672.5h21v7h-21zM1332.0 665.8h6.6v20.5h-6.6z" fill="#000"/><path d="M1413.4 685.5h21v7h-21zM1420.6 678.8h6.6v20.5h-6.6z" fill="#000"/><path d="M1502.0 685.5h21v7h-21zM1509.2 678.8h6.6v20.5h-6.6z" fill="#000"/><path d="M1590.6 693.5h21v7h-21zM1597.8 686.8h6.6v20.5h-6.6z" fill="#000"/>
<polyline points="272.2,270.0 360.8,300.0 449.4,363.0 538.0,616.0 626.6,513.5 715.2,544.7 803.7,540.0 892.3,585.0 980.9,710.0 1069.5,622.0 1158.1,660.0 1246.7,742.0 1335.3,713.0 1423.9,730.5 1512.5,724.0 1601.1,726.0" fill="none" stroke="#ababab" stroke-width="3.0" stroke-linejoin="round"/>
<path d="M261.7 266.5h21v7h-21zM268.9 259.8h6.6v20.5h-6.6z" fill="#000"/><path d="M350.3 296.5h21v7h-21zM357.5 289.8h6.6v20.5h-6.6z" fill="#000"/><path d="M438.9 359.5h21v7h-21zM446.1 352.8h6.6v20.5h-6.6z" fill="#000"/><path d="M527.5 612.5h21v7h-21zM534.7 605.8h6.6v20.5h-6.6z" fill="#000"/><path d="M616.1 510.0h21v7h-21zM623.3 503.2h6.6v20.5h-6.6z" fill="#000"/><path d="M704.7 541.2h21v7h-21zM711.9 534.5h6.6v20.5h-6.6z" fill="#000"/><path d="M793.2 536.5h21v7h-21zM800.4 529.8h6.6v20.5h-6.6z" fill="#000"/><path d="M881.8 581.5h21v7h-21zM889.0 574.8h6.6v20.5h-6.6z" fill="#000"/><path d="M970.4 706.5h21v7h-21zM977.6 699.8h6.6v20.5h-6.6z" fill="#000"/><path d="M1059.0 618.5h21v7h-21zM1066.2 611.8h6.6v20.5h-6.6z" fill="#000"/><path d="M1147.6 656.5h21v7h-21zM1154.8 649.8h6.6v20.5h-6.6z" fill="#000"/><path d="M1236.2 738.5h21v7h-21zM1243.4 731.8h6.6v20.5h-6.6z" fill="#000"/><path d="M1324.8 709.5h21v7h-21zM1332.0 702.8h6.6v20.5h-6.6z" fill="#000"/><path d="M1413.4 727.0h21v7h-21zM1420.6 720.2h6.6v20.5h-6.6z" fill="#000"/><path d="M1502.0 720.5h21v7h-21zM1509.2 713.8h6.6v20.5h-6.6z" fill="#000"/><path d="M1590.6 722.5h21v7h-21zM1597.8 715.8h6.6v20.5h-6.6z" fill="#000"/>
<polyline points="272.2,257.0 360.8,295.0 449.4,325.0 538.0,616.0 626.6,512.0 715.2,544.7 803.7,550.0 892.3,575.0 980.9,692.0 1069.5,590.0 1158.1,650.0 1246.7,745.0 1335.3,715.0 1423.9,731.0 1512.5,741.6 1601.1,758.0" fill="none" stroke="#ababab" stroke-width="3.0" stroke-linejoin="round"/>
<path d="M261.7 253.5h21v7h-21zM268.9 246.8h6.6v20.5h-6.6z" fill="#000"/><path d="M350.3 291.5h21v7h-21zM357.5 284.8h6.6v20.5h-6.6z" fill="#000"/><path d="M438.9 321.5h21v7h-21zM446.1 314.8h6.6v20.5h-6.6z" fill="#000"/><path d="M527.5 612.5h21v7h-21zM534.7 605.8h6.6v20.5h-6.6z" fill="#000"/><path d="M616.1 508.5h21v7h-21zM623.3 501.8h6.6v20.5h-6.6z" fill="#000"/><path d="M704.7 541.2h21v7h-21zM711.9 534.5h6.6v20.5h-6.6z" fill="#000"/><path d="M793.2 546.5h21v7h-21zM800.4 539.8h6.6v20.5h-6.6z" fill="#000"/><path d="M881.8 571.5h21v7h-21zM889.0 564.8h6.6v20.5h-6.6z" fill="#000"/><path d="M970.4 688.5h21v7h-21zM977.6 681.8h6.6v20.5h-6.6z" fill="#000"/><path d="M1059.0 586.5h21v7h-21zM1066.2 579.8h6.6v20.5h-6.6z" fill="#000"/><path d="M1147.6 646.5h21v7h-21zM1154.8 639.8h6.6v20.5h-6.6z" fill="#000"/><path d="M1236.2 741.5h21v7h-21zM1243.4 734.8h6.6v20.5h-6.6z" fill="#000"/><path d="M1324.8 711.5h21v7h-21zM1332.0 704.8h6.6v20.5h-6.6z" fill="#000"/><path d="M1413.4 727.5h21v7h-21zM1420.6 720.8h6.6v20.5h-6.6z" fill="#000"/><path d="M1502.0 738.1h21v7h-21zM1509.2 731.4h6.6v20.5h-6.6z" fill="#000"/><path d="M1590.6 754.5h21v7h-21zM1597.8 747.8h6.6v20.5h-6.6z" fill="#000"/>
<polyline points="272.2,234.0 360.8,305.0 449.4,340.0 538.0,616.0 626.6,484.5 715.2,516.0 803.7,532.0 892.3,568.0 980.9,703.0 1069.5,600.0 1158.1,640.0 1246.7,723.0 1335.3,701.0 1423.9,718.5 1512.5,724.0 1601.1,738.0" fill="none" stroke="#000" stroke-width="3" stroke-linejoin="round"/>
<path d="M264.7 226.0L279.7 242.0M279.7 226.0L264.7 242.0" fill="none" stroke="#858585" stroke-width="5.5" stroke-linecap="butt"/><path d="M353.3 297.0L368.3 313.0M368.3 297.0L353.3 313.0" fill="none" stroke="#858585" stroke-width="5.5" stroke-linecap="butt"/><path d="M441.9 332.0L456.9 348.0M456.9 332.0L441.9 348.0" fill="none" stroke="#858585" stroke-width="5.5" stroke-linecap="butt"/><path d="M530.5 608.0L545.5 624.0M545.5 608.0L530.5 624.0" fill="none" stroke="#858585" stroke-width="5.5" stroke-linecap="butt"/><path d="M619.1 476.5L634.1 492.5M634.1 476.5L619.1 492.5" fill="none" stroke="#858585" stroke-width="5.5" stroke-linecap="butt"/><path d="M707.7 508.0L722.7 524.0M722.7 508.0L707.7 524.0" fill="none" stroke="#858585" stroke-width="5.5" stroke-linecap="butt"/><path d="M796.2 524.0L811.2 540.0M811.2 524.0L796.2 540.0" fill="none" stroke="#858585" stroke-width="5.5" stroke-linecap="butt"/><path d="M884.8 560.0L899.8 576.0M899.8 560.0L884.8 576.0" fill="none" stroke="#858585" stroke-width="5.5" stroke-linecap="butt"/><path d="M973.4 695.0L988.4 711.0M988.4 695.0L973.4 711.0" fill="none" stroke="#858585" stroke-width="5.5" stroke-linecap="butt"/><path d="M1062.0 592.0L1077.0 608.0M1077.0 592.0L1062.0 608.0" fill="none" stroke="#858585" stroke-width="5.5" stroke-linecap="butt"/><path d="M1150.6 632.0L1165.6 648.0M1165.6 632.0L1150.6 648.0" fill="none" stroke="#858585" stroke-width="5.5" stroke-linecap="butt"/><path d="M1239.2 715.0L1254.2 731.0M1254.2 715.0L1239.2 731.0" fill="none" stroke="#858585" stroke-width="5.5" stroke-linecap="butt"/><path d="M1327.8 693.0L1342.8 709.0M1342.8 693.0L1327.8 709.0" fill="none" stroke="#858585" stroke-width="5.5" stroke-linecap="butt"/><path d="M1416.4 710.5L1431.4 726.5M1431.4 710.5L1416.4 726.5" fill="none" stroke="#858585" stroke-width="5.5" stroke-linecap="butt"/><path d="M1505.0 716.0L1520.0 732.0M1520.0 716.0L1505.0 732.0" fill="none" stroke="#858585" stroke-width="5.5" stroke-linecap="butt"/><path d="M1593.6 730.0L1608.6 746.0M1608.6 730.0L1593.6 746.0" fill="none" stroke="#858585" stroke-width="5.5" stroke-linecap="butt"/>
<polyline points="272.2,245.0 360.8,310.0 449.4,343.0 538.0,616.0 626.6,488.0 715.2,518.5 803.7,545.0 892.3,577.5 980.9,735.0 1069.5,602.0 1158.1,641.0 1246.7,728.0 1335.3,721.0 1423.9,746.0 1512.5,741.6 1601.1,748.0" fill="none" stroke="#000" stroke-width="3" stroke-linejoin="round"/>
<path d="M264.7 237.0L279.7 253.0M279.7 237.0L264.7 253.0" fill="none" stroke="#858585" stroke-width="5.5" stroke-linecap="butt"/><path d="M353.3 302.0L368.3 318.0M368.3 302.0L353.3 318.0" fill="none" stroke="#858585" stroke-width="5.5" stroke-linecap="butt"/><path d="M441.9 335.0L456.9 351.0M456.9 335.0L441.9 351.0" fill="none" stroke="#858585" stroke-width="5.5" stroke-linecap="butt"/><path d="M530.5 608.0L545.5 624.0M545.5 608.0L530.5 624.0" fill="none" stroke="#858585" stroke-width="5.5" stroke-linecap="butt"/><path d="M619.1 480.0L634.1 496.0M634.1 480.0L619.1 496.0" fill="none" stroke="#858585" stroke-width="5.5" stroke-linecap="butt"/><path d="M707.7 510.5L722.7 526.5M722.7 510.5L707.7 526.5" fill="none" stroke="#858585" stroke-width="5.5" stroke-linecap="butt"/><path d="M796.2 537.0L811.2 553.0M811.2 537.0L796.2 553.0" fill="none" stroke="#858585" stroke-width="5.5" stroke-linecap="butt"/><path d="M884.8 569.5L899.8 585.5M899.8 569.5L884.8 585.5" fill="none" stroke="#858585" stroke-width="5.5" stroke-linecap="butt"/><path d="M973.4 727.0L988.4 743.0M988.4 727.0L973.4 743.0" fill="none" stroke="#858585" stroke-width="5.5" stroke-linecap="butt"/><path d="M1062.0 594.0L1077.0 610.0M1077.0 594.0L1062.0 610.0" fill="none" stroke="#858585" stroke-width="5.5" stroke-linecap="butt"/><path d="M1150.6 633.0L1165.6 649.0M1165.6 633.0L1150.6 649.0" fill="none" stroke="#858585" stroke-width="5.5" stroke-linecap="butt"/><path d="M1239.2 720.0L1254.2 736.0M1254.2 720.0L1239.2 736.0" fill="none" stroke="#858585" stroke-width="5.5" stroke-linecap="butt"/><path d="M1327.8 713.0L1342.8 729.0M1342.8 713.0L1327.8 729.0" fill="none" stroke="#858585" stroke-width="5.5" stroke-linecap="butt"/><path d="M1416.4 738.0L1431.4 754.0M1431.4 738.0L1416.4 754.0" fill="none" stroke="#858585" stroke-width="5.5" stroke-linecap="butt"/><path d="M1505.0 733.6L1520.0 749.6M1520.0 733.6L1505.0 749.6" fill="none" stroke="#858585" stroke-width="5.5" stroke-linecap="butt"/><path d="M1593.6 740.0L1608.6 756.0M1608.6 740.0L1593.6 756.0" fill="none" stroke="#858585" stroke-width="5.5" stroke-linecap="butt"/>
<polyline points="272.2,316.0 360.8,307.6 449.4,351.0 538.0,616.0 626.6,460.4 715.2,484.0 803.7,473.0 892.3,536.0 980.9,570.0 1069.5,553.0 1158.1,602.0 1246.7,656.0 1335.3,620.0 1423.9,606.0 1512.5,640.0 1601.1,643.0" fill="none" stroke="#888888" stroke-width="2.8" stroke-linejoin="round" stroke-dasharray="9 4"/>
<ellipse cx="272.2" cy="316.0" rx="8.2" ry="7.5" fill="#888888" stroke="#000" stroke-width="2.7"/><ellipse cx="360.8" cy="307.6" rx="8.2" ry="7.5" fill="#888888" stroke="#000" stroke-width="2.7"/><ellipse cx="449.4" cy="351.0" rx="8.2" ry="7.5" fill="#888888" stroke="#000" stroke-width="2.7"/><ellipse cx="538.0" cy="616.0" rx="8.2" ry="7.5" fill="#888888" stroke="#000" stroke-width="2.7"/><ellipse cx="626.6" cy="460.4" rx="8.2" ry="7.5" fill="#888888" stroke="#000" stroke-width="2.7"/><ellipse cx="715.2" cy="484.0" rx="8.2" ry="7.5" fill="#888888" stroke="#000" stroke-width="2.7"/><ellipse cx="803.7" cy="473.0" rx="8.2" ry="7.5" fill="#888888" stroke="#000" stroke-width="2.7"/><ellipse cx="892.3" cy="536.0" rx="8.2" ry="7.5" fill="#888888" stroke="#000" stroke-width="2.7"/><ellipse cx="980.9" cy="570.0" rx="8.2" ry="7.5" fill="#888888" stroke="#000" stroke-width="2.7"/><ellipse cx="1069.5" cy="553.0" rx="8.2" ry="7.5" fill="#888888" stroke="#000" stroke-width="2.7"/><ellipse cx="1158.1" cy="602.0" rx="8.2" ry="7.5" fill="#888888" stroke="#000" stroke-width="2.7"/><ellipse cx="1246.7" cy="656.0" rx="8.2" ry="7.5" fill="#888888" stroke="#000" stroke-width="2.7"/><ellipse cx="1335.3" cy="620.0" rx="8.2" ry="7.5" fill="#888888" stroke="#000" stroke-width="2.7"/><ellipse cx="1423.9" cy="606.0" rx="8.2" ry="7.5" fill="#888888" stroke="#000" stroke-width="2.7"/><ellipse cx="1512.5" cy="640.0" rx="8.2" ry="7.5" fill="#888888" stroke="#000" stroke-width="2.7"/><ellipse cx="1601.1" cy="643.0" rx="8.2" ry="7.5" fill="#888888" stroke="#000" stroke-width="2.7"/>
<polyline points="272.2,318.0 360.8,323.0 449.4,354.0 538.0,616.0 626.6,470.2 715.2,498.0 803.7,486.0 892.3,553.0 980.9,591.0 1069.5,566.0 1158.1,619.0 1246.7,702.0 1335.3,657.0 1423.9,634.0 1512.5,655.5 1601.1,659.5" fill="none" stroke="#888888" stroke-width="2.8" stroke-linejoin="round" stroke-dasharray="9 4"/>
<ellipse cx="272.2" cy="318.0" rx="8.2" ry="7.5" fill="#888888" stroke="#000" stroke-width="2.7"/><ellipse cx="360.8" cy="323.0" rx="8.2" ry="7.5" fill="#888888" stroke="#000" stroke-width="2.7"/><ellipse cx="449.4" cy="354.0" rx="8.2" ry="7.5" fill="#888888" stroke="#000" stroke-width="2.7"/><ellipse cx="538.0" cy="616.0" rx="8.2" ry="7.5" fill="#888888" stroke="#000" stroke-width="2.7"/><ellipse cx="626.6" cy="470.2" rx="8.2" ry="7.5" fill="#888888" stroke="#000" stroke-width="2.7"/><ellipse cx="715.2" cy="498.0" rx="8.2" ry="7.5" fill="#888888" stroke="#000" stroke-width="2.7"/><ellipse cx="803.7" cy="486.0" rx="8.2" ry="7.5" fill="#888888" stroke="#000" stroke-width="2.7"/><ellipse cx="892.3" cy="553.0" rx="8.2" ry="7.5" fill="#888888" stroke="#000" stroke-width="2.7"/><ellipse cx="980.9" cy="591.0" rx="8.2" ry="7.5" fill="#888888" stroke="#000" stroke-width="2.7"/><ellipse cx="1069.5" cy="566.0" rx="8.2" ry="7.5" fill="#888888" stroke="#000" stroke-width="2.7"/><ellipse cx="1158.1" cy="619.0" rx="8.2" ry="7.5" fill="#888888" stroke="#000" stroke-width="2.7"/><ellipse cx="1246.7" cy="702.0" rx="8.2" ry="7.5" fill="#888888" stroke="#000" stroke-width="2.7"/><ellipse cx="1335.3" cy="657.0" rx="8.2" ry="7.5" fill="#888888" stroke="#000" stroke-width="2.7"/><ellipse cx="1423.9" cy="634.0" rx="8.2" ry="7.5" fill="#888888" stroke="#000" stroke-width="2.7"/><ellipse cx="1512.5" cy="655.5" rx="8.2" ry="7.5" fill="#888888" stroke="#000" stroke-width="2.7"/><ellipse cx="1601.1" cy="659.5" rx="8.2" ry="7.5" fill="#888888" stroke="#000" stroke-width="2.7"/>
<polyline points="272.2,320.0 360.8,333.0 449.4,356.0 538.0,616.0 626.6,476.6 715.2,497.5 803.7,474.0 892.3,552.0 980.9,596.0 1069.5,568.0 1158.1,621.0 1246.7,688.0 1335.3,636.5 1423.9,669.0 1512.5,622.0 1601.1,631.0" fill="none" stroke="#888888" stroke-width="2.8" stroke-linejoin="round" stroke-dasharray="9 4"/>
<ellipse cx="272.2" cy="320.0" rx="8.2" ry="7.5" fill="#888888" stroke="#000" stroke-width="2.7"/><ellipse cx="360.8" cy="333.0" rx="8.2" ry="7.5" fill="#888888" stroke="#000" stroke-width="2.7"/><ellipse cx="449.4" cy="356.0" rx="8.2" ry="7.5" fill="#888888" stroke="#000" stroke-width="2.7"/><ellipse cx="538.0" cy="616.0" rx="8.2" ry="7.5" fill="#888888" stroke="#000" stroke-width="2.7"/><ellipse cx="626.6" cy="476.6" rx="8.2" ry="7.5" fill="#888888" stroke="#000" stroke-width="2.7"/><ellipse cx="715.2" cy="497.5" rx="8.2" ry="7.5" fill="#888888" stroke="#000" stroke-width="2.7"/><ellipse cx="803.7" cy="474.0" rx="8.2" ry="7.5" fill="#888888" stroke="#000" stroke-width="2.7"/><ellipse cx="892.3" cy="552.0" rx="8.2" ry="7.5" fill="#888888" stroke="#000" stroke-width="2.7"/><ellipse cx="980.9" cy="596.0" rx="8.2" ry="7.5" fill="#888888" stroke="#000" stroke-width="2.7"/><ellipse cx="1069.5" cy="568.0" rx="8.2" ry="7.5" fill="#888888" stroke="#000" stroke-width="2.7"/><ellipse cx="1158.1" cy="621.0" rx="8.2" ry="7.5" fill="#888888" stroke="#000" stroke-width="2.7"/><ellipse cx="1246.7" cy="688.0" rx="8.2" ry="7.5" fill="#888888" stroke="#000" stroke-width="2.7"/><ellipse cx="1335.3" cy="636.5" rx="8.2" ry="7.5" fill="#888888" stroke="#000" stroke-width="2.7"/><ellipse cx="1423.9" cy="669.0" rx="8.2" ry="7.5" fill="#888888" stroke="#000" stroke-width="2.7"/><ellipse cx="1512.5" cy="622.0" rx="8.2" ry="7.5" fill="#888888" stroke="#000" stroke-width="2.7"/><ellipse cx="1601.1" cy="631.0" rx="8.2" ry="7.5" fill="#888888" stroke="#000" stroke-width="2.7"/>
</g>
<rect x="1231" y="101" width="400.5" height="356.5" fill="#fff" stroke="#000" stroke-width="2.2"/>
<path d="M1263.8 137.2H1355.7" stroke="#ababab" stroke-width="2.6"/>
<rect x="1304.4" y="128.3" width="13.2" height="15.8" fill="#eeeeee" stroke="#000" stroke-width="2.8"/>
<path d="M1263.8 194.6H1355.7" stroke="#000" stroke-width="2.5"/>
<path d="M1311.0 186.6L1320.3 206.6L1301.7 206.6Z" fill="#d8d8d8" stroke="#000" stroke-width="2.8" stroke-linejoin="miter"/>
<path d="M1263.8 254.7H1355.7" stroke="#000" stroke-width="2.5"/>
<path d="M1311.0 243.7L1320.4 254.7L1311.0 265.7L1301.6 254.7Z" fill="#d8d8d8" stroke="#000" stroke-width="2.8" stroke-linejoin="miter"/>
<path d="M1263.8 312.3H1355.7" stroke="#ababab" stroke-width="2.6"/>
<path d="M1301.8 308.8h18.5v7h-18.5zM1307.8 301.3h6.4v22h-6.4z" fill="#000"/>
<path d="M1263.8 372.4H1355.7" stroke="#000" stroke-width="2.5"/>
<path d="M1302.0 361.9L1320.0 382.9M1320.0 361.9L1302.0 382.9" fill="none" stroke="#858585" stroke-width="5.6" stroke-linecap="butt"/>
<path d="M1263.8 429.7H1353.7" stroke="#888888" stroke-width="2.5" stroke-dasharray="7 2.8"/>
<ellipse cx="1311.0" cy="430.9" rx="6.6" ry="8.6" fill="#888" stroke="#000" stroke-width="3"/>
<text transform="translate(1394.26,151.70) scale(0.9877,1)" font-size="44" fill="#000">Chaihuín</text>
<text transform="translate(1394.70,209.10) scale(0.9854,1)" font-size="44" fill="#000">Laurel</text>
<text transform="translate(1394.25,269.20) scale(0.9969,1)" font-size="44" fill="#000">Oncol</text>
<text transform="translate(1394.69,325.10) scale(0.9911,1)" font-size="44" fill="#000">Los Boldos</text>
<text transform="translate(1394.69,385.40) scale(0.9935,1)" font-size="44" fill="#000">Loncoche</text>
<text transform="translate(1394.25,442.90) scale(0.9955,1)" font-size="44" fill="#000">Gualletué</text>
<rect x="18.5" y="1114" width="1701.75" height="1012.5" fill="none" stroke="#858585" stroke-width="3"/>
<rect x="214.5" y="1166.3" width="1456.8" height="827.9000000000001" fill="none" stroke="#555555" stroke-width="3"/>
<path d="M214.5 1578.8H1671.3" stroke="#747474" stroke-width="2"/>
<path d="M214.5 1166.3h-13M214.5 1578.8h-13M214.5 1994.2h-13" stroke="#707070" stroke-width="2.6" fill="none"/>
<path d="M214.5 1455.6h10M214.5 1382.7h10M214.5 1331.0h10M214.5 1290.9h10M214.5 1258.1h10M214.5 1230.4h10M214.5 1206.4h10M214.5 1185.2h10M214.5 1869.6h10M214.5 1796.7h10M214.5 1745.0h10M214.5 1704.9h10M214.5 1672.1h10M214.5 1644.4h10M214.5 1620.4h10M214.5 1599.2h10" stroke="#707070" stroke-width="2.6" fill="none"/>
<path d="M214.5 1994.2v14M305.6 1994.2v14M396.6 1994.2v14M487.6 1994.2v14M578.7 1994.2v14M669.8 1994.2v14M760.8 1994.2v14M851.9 1994.2v14M942.9 1994.2v14M1033.9 1994.2v14M1125.0 1994.2v14M1216.0 1994.2v14M1307.1 1994.2v14M1398.1 1994.2v14M1489.2 1994.2v14M1580.2 1994.2v14M1671.3 1994.2v14" stroke="#707070" stroke-width="2.6" fill="none"/>
<text transform="translate(96.61,1178.00) scale(1.0202,1)" font-size="38" fill="#000">10,0</text>
<text transform="translate(121.38,1593.40) scale(0.9988,1)" font-size="38" fill="#000">1,0</text>
<text transform="translate(120.62,2010.00) scale(0.9704,1)" font-size="38" fill="#000">0,1</text>
<text transform="translate(74.40,1707.85) rotate(-90) scale(1.0956,1)" font-size="44" fill="#000">Forearc / Arc</text>
<text transform="translate(30.29,2110.50) scale(1.0490,1)" font-size="86" fill="#000">B</text>
<text transform="translate(254.61,2068.90) scale(1.2647,1)" font-size="34" fill="#000">Rb</text>
<text transform="translate(343.51,2068.90) scale(1.2674,1)" font-size="34" fill="#000">Ba</text>
<text transform="translate(442.93,2068.90) scale(1.2454,1)" font-size="34" fill="#000">K</text>
<text transform="translate(521.75,2068.90) scale(1.2249,1)" font-size="34" fill="#000">Nb</text>
<text transform="translate(606.24,2068.90) scale(1.2376,1)" font-size="34" fill="#000">La</text>
<text transform="translate(694.63,2068.90) scale(1.3012,1)" font-size="34" fill="#000">Ce</text>
<text transform="translate(794.98,2068.90) scale(1.2706,1)" font-size="34" fill="#000">Sr</text>
<text transform="translate(878.97,2068.90) scale(1.2014,1)" font-size="34" fill="#000">Nd</text>
<text transform="translate(981.55,2068.90) scale(1.3281,1)" font-size="34" fill="#000">P</text>
<text transform="translate(1062.69,2068.90) scale(1.3057,1)" font-size="34" fill="#000">Zr</text>
<text transform="translate(1142.96,2068.90) scale(1.2353,1)" font-size="34" fill="#000">Sm</text>
<text transform="translate(1244.47,2068.90) scale(1.2268,1)" font-size="34" fill="#000">Ti</text>
<text transform="translate(1328.07,2068.90) scale(1.2211,1)" font-size="34" fill="#000">Tb</text>
<text transform="translate(1425.59,2068.90) scale(1.2193,1)" font-size="34" fill="#000">Y</text>
<text transform="translate(1499.68,2068.90) scale(1.2069,1)" font-size="34" fill="#000">Tm</text>
<text transform="translate(1594.19,2068.90) scale(1.2040,1)" font-size="34" fill="#000">Yb</text>
<g id="seriesB">
<polyline points="260.8,1263.2 351.8,1522.0 442.9,1522.0 534.0,1438.0 625.0,1594.5 716.1,1593.0 807.2,1792.0 898.2,1606.0 989.3,1724.0 1080.4,1645.0 1171.4,1611.0 1262.5,1561.3 1353.6,1603.2 1444.6,1654.8 1535.7,1627.4 1626.8,1608.0" fill="none" stroke="#9b9b9b" stroke-width="5.0" stroke-linejoin="round"/>
<path d="M260.8 1250.3L273.2 1263.2L260.8 1276.1L248.4 1263.2Z" fill="#fff" stroke="#000" stroke-width="3" stroke-linejoin="miter"/><path d="M351.8 1509.1L364.2 1522.0L351.8 1534.9L339.4 1522.0Z" fill="#fff" stroke="#000" stroke-width="3" stroke-linejoin="miter"/><path d="M442.9 1509.1L455.3 1522.0L442.9 1534.9L430.5 1522.0Z" fill="#fff" stroke="#000" stroke-width="3" stroke-linejoin="miter"/><path d="M534.0 1425.1L546.4 1438.0L534.0 1450.9L521.6 1438.0Z" fill="#fff" stroke="#000" stroke-width="3" stroke-linejoin="miter"/><path d="M625.0 1581.6L637.4 1594.5L625.0 1607.4L612.6 1594.5Z" fill="#fff" stroke="#000" stroke-width="3" stroke-linejoin="miter"/><path d="M716.1 1580.1L728.5 1593.0L716.1 1605.9L703.7 1593.0Z" fill="#fff" stroke="#000" stroke-width="3" stroke-linejoin="miter"/><path d="M807.2 1779.1L819.6 1792.0L807.2 1804.9L794.8 1792.0Z" fill="#fff" stroke="#000" stroke-width="3" stroke-linejoin="miter"/><path d="M898.2 1593.1L910.6 1606.0L898.2 1618.9L885.8 1606.0Z" fill="#fff" stroke="#000" stroke-width="3" stroke-linejoin="miter"/><path d="M989.3 1711.1L1001.7 1724.0L989.3 1736.9L976.9 1724.0Z" fill="#fff" stroke="#000" stroke-width="3" stroke-linejoin="miter"/><path d="M1080.4 1632.1L1092.8 1645.0L1080.4 1657.9L1068.0 1645.0Z" fill="#fff" stroke="#000" stroke-width="3" stroke-linejoin="miter"/><path d="M1171.4 1598.1L1183.8 1611.0L1171.4 1623.9L1159.0 1611.0Z" fill="#fff" stroke="#000" stroke-width="3" stroke-linejoin="miter"/><path d="M1262.5 1548.4L1274.9 1561.3L1262.5 1574.2L1250.1 1561.3Z" fill="#fff" stroke="#000" stroke-width="3" stroke-linejoin="miter"/><path d="M1353.6 1590.3L1366.0 1603.2L1353.6 1616.1L1341.2 1603.2Z" fill="#fff" stroke="#000" stroke-width="3" stroke-linejoin="miter"/><path d="M1444.6 1641.9L1457.0 1654.8L1444.6 1667.7L1432.2 1654.8Z" fill="#fff" stroke="#000" stroke-width="3" stroke-linejoin="miter"/><path d="M1535.7 1614.5L1548.1 1627.4L1535.7 1640.3L1523.3 1627.4Z" fill="#fff" stroke="#000" stroke-width="3" stroke-linejoin="miter"/><path d="M1626.8 1595.1L1639.2 1608.0L1626.8 1620.9L1614.3 1608.0Z" fill="#fff" stroke="#000" stroke-width="3" stroke-linejoin="miter"/>
<polyline points="260.8,1357.4 351.8,1468.0 442.9,1562.0 534.0,1438.0 625.0,1560.6 716.1,1567.5 807.2,1725.8 898.2,1586.5 989.3,1740.0 1080.4,1620.0 1171.4,1596.8 1262.5,1572.0 1353.6,1609.7 1444.6,1658.0 1535.7,1637.0 1626.8,1619.0" fill="none" stroke="#555" stroke-width="5.6" stroke-linejoin="round"/>
<path d="M260.8 1343.9L271.8 1366.9L249.8 1366.9Z" fill="#000" stroke="#000" stroke-width="1" stroke-linejoin="miter"/><path d="M351.8 1454.5L362.8 1477.5L340.8 1477.5Z" fill="#000" stroke="#000" stroke-width="1" stroke-linejoin="miter"/><path d="M442.9 1548.5L453.9 1571.5L431.9 1571.5Z" fill="#000" stroke="#000" stroke-width="1" stroke-linejoin="miter"/><path d="M534.0 1424.5L545.0 1447.5L523.0 1447.5Z" fill="#000" stroke="#000" stroke-width="1" stroke-linejoin="miter"/><path d="M625.0 1547.1L636.0 1570.1L614.0 1570.1Z" fill="#000" stroke="#000" stroke-width="1" stroke-linejoin="miter"/><path d="M716.1 1554.0L727.1 1577.0L705.1 1577.0Z" fill="#000" stroke="#000" stroke-width="1" stroke-linejoin="miter"/><path d="M807.2 1712.3L818.2 1735.3L796.2 1735.3Z" fill="#000" stroke="#000" stroke-width="1" stroke-linejoin="miter"/><path d="M898.2 1573.0L909.2 1596.0L887.2 1596.0Z" fill="#000" stroke="#000" stroke-width="1" stroke-linejoin="miter"/><path d="M989.3 1726.5L1000.3 1749.5L978.3 1749.5Z" fill="#000" stroke="#000" stroke-width="1" stroke-linejoin="miter"/><path d="M1080.4 1606.5L1091.4 1629.5L1069.4 1629.5Z" fill="#000" stroke="#000" stroke-width="1" stroke-linejoin="miter"/><path d="M1171.4 1583.3L1182.4 1606.3L1160.4 1606.3Z" fill="#000" stroke="#000" stroke-width="1" stroke-linejoin="miter"/><path d="M1262.5 1558.5L1273.5 1581.5L1251.5 1581.5Z" fill="#000" stroke="#000" stroke-width="1" stroke-linejoin="miter"/><path d="M1353.6 1596.2L1364.6 1619.2L1342.6 1619.2Z" fill="#000" stroke="#000" stroke-width="1" stroke-linejoin="miter"/><path d="M1444.6 1644.5L1455.6 1667.5L1433.6 1667.5Z" fill="#000" stroke="#000" stroke-width="1" stroke-linejoin="miter"/><path d="M1535.7 1623.5L1546.7 1646.5L1524.7 1646.5Z" fill="#000" stroke="#000" stroke-width="1" stroke-linejoin="miter"/><path d="M1626.8 1605.5L1637.8 1628.5L1615.8 1628.5Z" fill="#000" stroke="#000" stroke-width="1" stroke-linejoin="miter"/>
<polyline points="260.8,1457.4 351.8,1457.4 442.9,1586.5 534.0,1579.0 625.0,1631.6 716.1,1626.0 807.2,1675.8 898.2,1622.0 989.3,1738.7 1080.4,1611.0 1171.4,1629.0 1262.5,1596.8 1353.6,1703.2 1444.6,1807.0 1535.7,1811.0 1626.8,1804.8" fill="none" stroke="#000" stroke-width="3.0" stroke-linejoin="round"/>
<path d="M252.8 1448.9L268.7 1465.9M268.7 1448.9L252.8 1465.9" fill="none" stroke="#000" stroke-width="5.6" stroke-linecap="butt"/><path d="M343.9 1448.9L359.8 1465.9M359.8 1448.9L343.9 1465.9" fill="none" stroke="#000" stroke-width="5.6" stroke-linecap="butt"/><path d="M434.9 1578.0L450.8 1595.0M450.8 1578.0L434.9 1595.0" fill="none" stroke="#000" stroke-width="5.6" stroke-linecap="butt"/><path d="M526.0 1570.5L541.9 1587.5M541.9 1570.5L526.0 1587.5" fill="none" stroke="#000" stroke-width="5.6" stroke-linecap="butt"/><path d="M617.1 1623.1L633.0 1640.1M633.0 1623.1L617.1 1640.1" fill="none" stroke="#000" stroke-width="5.6" stroke-linecap="butt"/><path d="M708.1 1617.5L724.0 1634.5M724.0 1617.5L708.1 1634.5" fill="none" stroke="#000" stroke-width="5.6" stroke-linecap="butt"/><path d="M799.2 1667.3L815.1 1684.3M815.1 1667.3L799.2 1684.3" fill="none" stroke="#000" stroke-width="5.6" stroke-linecap="butt"/><path d="M890.3 1613.5L906.2 1630.5M906.2 1613.5L890.3 1630.5" fill="none" stroke="#000" stroke-width="5.6" stroke-linecap="butt"/><path d="M981.3 1730.2L997.2 1747.2M997.2 1730.2L981.3 1747.2" fill="none" stroke="#000" stroke-width="5.6" stroke-linecap="butt"/><path d="M1072.4 1602.5L1088.3 1619.5M1088.3 1602.5L1072.4 1619.5" fill="none" stroke="#000" stroke-width="5.6" stroke-linecap="butt"/><path d="M1163.5 1620.5L1179.4 1637.5M1179.4 1620.5L1163.5 1637.5" fill="none" stroke="#000" stroke-width="5.6" stroke-linecap="butt"/><path d="M1254.5 1588.3L1270.4 1605.3M1270.4 1588.3L1254.5 1605.3" fill="none" stroke="#000" stroke-width="5.6" stroke-linecap="butt"/><path d="M1345.6 1694.7L1361.5 1711.7M1361.5 1694.7L1345.6 1711.7" fill="none" stroke="#000" stroke-width="5.6" stroke-linecap="butt"/><path d="M1436.7 1798.5L1452.6 1815.5M1452.6 1798.5L1436.7 1815.5" fill="none" stroke="#000" stroke-width="5.6" stroke-linecap="butt"/><path d="M1527.7 1802.5L1543.6 1819.5M1543.6 1802.5L1527.7 1819.5" fill="none" stroke="#000" stroke-width="5.6" stroke-linecap="butt"/><path d="M1618.8 1796.3L1634.7 1813.3M1634.7 1796.3L1618.8 1813.3" fill="none" stroke="#000" stroke-width="5.6" stroke-linecap="butt"/>
<polyline points="260.8,1404.0 351.8,1531.6 442.9,1563.9 534.0,1579.0 625.0,1624.0 716.1,1626.3 807.2,1708.7 898.2,1629.0 989.3,1837.0 1080.4,1658.0 1171.4,1646.8 1262.5,1629.0 1353.6,1725.8 1444.6,1836.5 1535.7,1793.5 1626.8,1777.4" fill="none" stroke="#9b9b9b" stroke-width="5.2" stroke-linejoin="round"/>
<ellipse cx="260.8" cy="1404.0" rx="11.6" ry="12.0" fill="#000" stroke="#555" stroke-width="2.6"/><ellipse cx="351.8" cy="1531.6" rx="11.6" ry="12.0" fill="#000" stroke="#555" stroke-width="2.6"/><ellipse cx="442.9" cy="1563.9" rx="11.6" ry="12.0" fill="#000" stroke="#555" stroke-width="2.6"/><ellipse cx="534.0" cy="1579.0" rx="11.6" ry="12.0" fill="#000" stroke="#555" stroke-width="2.6"/><ellipse cx="625.0" cy="1624.0" rx="11.6" ry="12.0" fill="#000" stroke="#555" stroke-width="2.6"/><ellipse cx="716.1" cy="1626.3" rx="11.6" ry="12.0" fill="#000" stroke="#555" stroke-width="2.6"/><ellipse cx="807.2" cy="1708.7" rx="11.6" ry="12.0" fill="#000" stroke="#555" stroke-width="2.6"/><ellipse cx="898.2" cy="1629.0" rx="11.6" ry="12.0" fill="#000" stroke="#555" stroke-width="2.6"/><ellipse cx="989.3" cy="1837.0" rx="11.6" ry="12.0" fill="#000" stroke="#555" stroke-width="2.6"/><ellipse cx="1080.4" cy="1658.0" rx="11.6" ry="12.0" fill="#000" stroke="#555" stroke-width="2.6"/><ellipse cx="1171.4" cy="1646.8" rx="11.6" ry="12.0" fill="#000" stroke="#555" stroke-width="2.6"/><ellipse cx="1262.5" cy="1629.0" rx="11.6" ry="12.0" fill="#000" stroke="#555" stroke-width="2.6"/><ellipse cx="1353.6" cy="1725.8" rx="11.6" ry="12.0" fill="#000" stroke="#555" stroke-width="2.6"/><ellipse cx="1444.6" cy="1836.5" rx="11.6" ry="12.0" fill="#000" stroke="#555" stroke-width="2.6"/><ellipse cx="1535.7" cy="1793.5" rx="11.6" ry="12.0" fill="#000" stroke="#555" stroke-width="2.6"/><ellipse cx="1626.8" cy="1777.4" rx="11.6" ry="12.0" fill="#000" stroke="#555" stroke-width="2.6"/>
<polyline points="260.8,1299.4 351.8,1481.6 442.9,1534.8 534.0,1579.0 625.0,1610.0 716.1,1612.0 807.2,1781.0 898.2,1619.0 989.3,1774.8 1080.4,1630.6 1171.4,1614.5 1262.5,1570.3 1353.6,1604.8 1444.6,1663.5 1535.7,1632.0 1626.8,1613.5" fill="none" stroke="#000" stroke-width="3.0" stroke-linejoin="round"/>
<rect x="251.9" y="1290.8" width="17.7" height="17.2" fill="#fff" stroke="#000" stroke-width="2.8"/><rect x="343.0" y="1473.0" width="17.7" height="17.2" fill="#fff" stroke="#000" stroke-width="2.8"/><rect x="434.0" y="1526.2" width="17.7" height="17.2" fill="#fff" stroke="#000" stroke-width="2.8"/><rect x="525.1" y="1570.4" width="17.7" height="17.2" fill="#fff" stroke="#000" stroke-width="2.8"/><rect x="616.2" y="1601.4" width="17.7" height="17.2" fill="#fff" stroke="#000" stroke-width="2.8"/><rect x="707.2" y="1603.4" width="17.7" height="17.2" fill="#fff" stroke="#000" stroke-width="2.8"/><rect x="798.3" y="1772.4" width="17.7" height="17.2" fill="#fff" stroke="#000" stroke-width="2.8"/><rect x="889.4" y="1610.4" width="17.7" height="17.2" fill="#fff" stroke="#000" stroke-width="2.8"/><rect x="980.4" y="1766.2" width="17.7" height="17.2" fill="#fff" stroke="#000" stroke-width="2.8"/><rect x="1071.5" y="1622.0" width="17.7" height="17.2" fill="#fff" stroke="#000" stroke-width="2.8"/><rect x="1162.6" y="1605.9" width="17.7" height="17.2" fill="#fff" stroke="#000" stroke-width="2.8"/><rect x="1253.6" y="1561.7" width="17.7" height="17.2" fill="#fff" stroke="#000" stroke-width="2.8"/><rect x="1344.7" y="1596.2" width="17.7" height="17.2" fill="#fff" stroke="#000" stroke-width="2.8"/><rect x="1435.8" y="1654.9" width="17.7" height="17.2" fill="#fff" stroke="#000" stroke-width="2.8"/><rect x="1526.8" y="1623.4" width="17.7" height="17.2" fill="#fff" stroke="#000" stroke-width="2.8"/><rect x="1617.9" y="1604.9" width="17.7" height="17.2" fill="#fff" stroke="#000" stroke-width="2.8"/>
</g>
<rect x="1232.4" y="1184.8" width="426.1" height="334.2" fill="#fff" stroke="#000" stroke-width="2.6"/>
<path d="M1336.2 1215.6H1420.8" stroke="#9b9b9b" stroke-width="5.4" stroke-linecap="round"/>
<path d="M1379.0 1206.1L1389.8 1215.6L1379.0 1225.1L1368.2 1215.6Z" fill="#fff" stroke="#000" stroke-width="3" stroke-linejoin="miter"/>
<path d="M1336.2 1285.7H1420.8" stroke="#555" stroke-width="6.2" stroke-linecap="round"/>
<path d="M1379.0 1273.7L1390.5 1295.2L1367.5 1295.2Z" fill="#000" stroke="#000" stroke-width="1" stroke-linejoin="miter"/>
<path d="M1337.2 1353.6H1419.8" stroke="#000" stroke-width="3"/>
<path d="M1369.5 1345.3L1388.5 1361.8M1388.5 1345.3L1369.5 1361.8" fill="none" stroke="#000" stroke-width="6" stroke-linecap="butt"/>
<path d="M1336.2 1423.4H1420.8" stroke="#9b9b9b" stroke-width="5.6" stroke-linecap="round"/>
<ellipse cx="1379.0" cy="1423.4" rx="11.4" ry="11.4" fill="#000" stroke="#505050" stroke-width="2.6"/>
<path d="M1337.2 1492.0H1419.8" stroke="#000" stroke-width="3"/>
<rect x="1371.0" y="1481.9" width="16" height="20.2" fill="#fff" stroke="#000" stroke-width="3"/>
<text transform="translate(1245.62,1229.40) scale(0.9746,1)" font-size="35.5" fill="#000">ONC</text>
<text transform="translate(1433.95,1228.20) scale(0.9376,1)" font-size="36" fill="#000">GdO-1 (62%)</text>
<text transform="translate(1246.00,1296.60) scale(0.9425,1)" font-size="35.5" fill="#000">LAU</text>
<text transform="translate(1434.29,1300.00) scale(0.9350,1)" font-size="36" fill="#000">DL-1 (66%)</text>
<text transform="translate(1245.98,1365.20) scale(0.9586,1)" font-size="35.5" fill="#000">BOL</text>
<text transform="translate(1433.95,1365.60) scale(0.9349,1)" font-size="36" fill="#000">GdLb-1 (69%)</text>
<text transform="translate(1246.00,1434.80) scale(0.9425,1)" font-size="35.5" fill="#000">LON</text>
<text transform="translate(1434.55,1436.60) scale(0.9318,1)" font-size="36" fill="#000">XI-1255 (70%)</text>
<text transform="translate(1245.64,1503.60) scale(0.9549,1)" font-size="35.5" fill="#000">CHA</text>
<text transform="translate(1433.95,1504.20) scale(0.9348,1)" font-size="36" fill="#000">Gdch-11 (70%)</text>
</svg>
</body></html>
